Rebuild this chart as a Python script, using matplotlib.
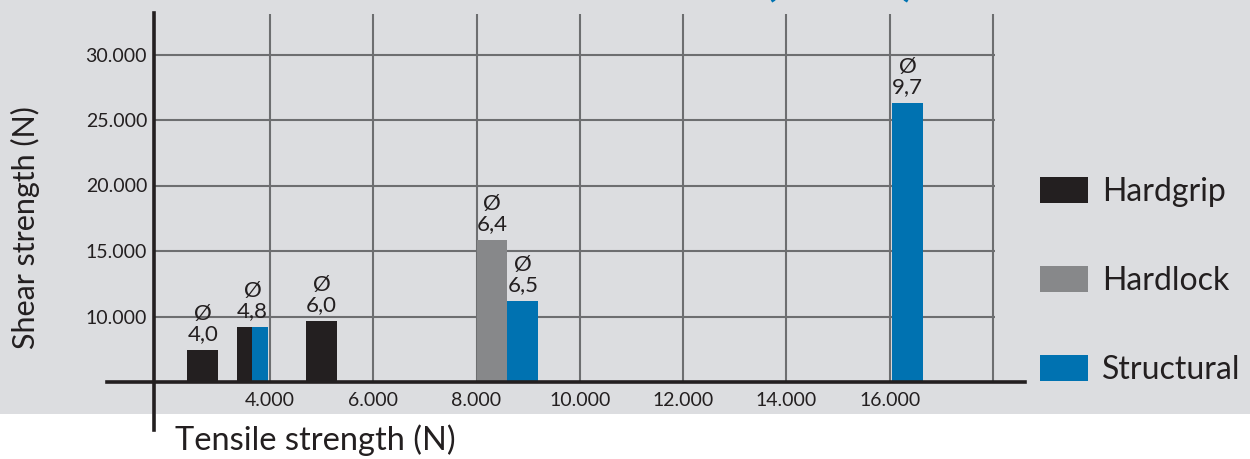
import matplotlib
matplotlib.use("Agg")
import matplotlib.pyplot as plt
from matplotlib.patches import Patch, Rectangle

plt.rcParams["font.family"] = ["Lato", "DejaVu Sans"]

PRETO = "#231f20"
CINZA = "#87888a"
AZUL = "#0072b1"
FUNDO = "#dcdde0"
GRADE = "#6d6e70"

# diametro (mm), resistencia a tracao (borda esquerda da barra) e ao cisalhamento
diametros = ["4,0", "4,8", "6,0", "6,4", "6,5", "9,7"]
tracao = [2400, 3360, 4700, 8000, 8600, 16050]
cisalhamento = [7450, 9200, 9650, 15840, 11180, 26300]
produtos = [["Hardgrip"], ["Hardgrip", "Structural"], ["Hardgrip"],
            ["Hardlock"], ["Structural"], ["Structural"]]

serie_nomes = ["Hardgrip", "Hardlock", "Structural"]
serie_cores = {"Hardgrip": PRETO, "Hardlock": CINZA, "Structural": AZUL}

x_ticks = [4000, 6000, 8000, 10000, 12000, 14000, 16000, 18000]
x_labels = ["4.000", "6.000", "8.000", "10.000", "12.000", "14.000", "16.000", ""]
y_ticks = [10000, 15000, 20000, 25000, 30000]
y_labels = ["10.000", "15.000", "20.000", "25.000", "30.000"]

BASE = 5000
LARGURA = 600

W, H = 1250, 459
fig = plt.figure(figsize=(W / 100, H / 100), dpi=100, facecolor="white")
fig.add_artist(Rectangle((0, (H - 414) / H), 1, 414 / H, transform=fig.transFigure,
                         facecolor=FUNDO, edgecolor="none", zorder=0))

ax = fig.add_axes([154 / W, (H - 382) / H, (995 - 154) / W, (382 - 14) / H])
ax.set_facecolor("none")
ax.set_xlim(1755, 18040)
ax.set_ylim(BASE, BASE + 368 / 13.1 * 1000)

for s in ax.spines.values():
    s.set_visible(False)

ax.set_xticks(x_ticks)
ax.set_xticklabels(x_labels)
ax.set_yticks(y_ticks)
ax.set_yticklabels(y_labels)
ax.tick_params(length=0, labelsize=14, labelcolor=PRETO)
ax.tick_params(axis="x", pad=7)
ax.tick_params(axis="y", pad=5)
ax.grid(True, color=GRADE, linewidth=1.5, zorder=1)
ax.set_axisbelow(True)

# eixos desenhados como no original (cruzando e saindo da area)
ax.plot([1755, 1755], [1330, 33150], color=PRETO, linewidth=2.6, clip_on=False, zorder=4)
ax.plot([840, 18620], [BASE, BASE], color=PRETO, linewidth=2.6, clip_on=False, zorder=4)

for d, x, y, prods in zip(diametros, tracao, cisalhamento, produtos):
    w = LARGURA / len(prods)
    for k, p in enumerate(prods):
        ax.bar(x + k * w, y - BASE, bottom=BASE, width=w, align="edge",
               color=serie_cores[p], zorder=3)
    ax.annotate(f"Ø\n{d}", (x + LARGURA / 2, y), xytext=(0, 4), textcoords="offset points",
                ha="center", va="bottom", fontsize=16, color=PRETO, linespacing=1.05,
                zorder=5)

fig.text(25 / W, (H - 228) / H, "Shear strength (N)", rotation=90, ha="center", va="center",
         fontsize=22, color=PRETO)
fig.text(175 / W, (H - 450) / H, "Tensile strength (N)", ha="left", va="baseline",
         fontsize=23.5, color=PRETO)
fig.text(840 / W, (H + 5) / H, "(  mm  )", ha="center", va="baseline", fontsize=34,
         color=AZUL, fontweight="bold")

handles = [Patch(facecolor=serie_cores[n], edgecolor="none") for n in serie_nomes]
fig.legend(handles, serie_nomes, loc="upper left", bbox_to_anchor=(1040 / W, (H - 177) / H),
           frameon=False, fontsize=23, handlelength=1.5, handleheight=0.85,
           handletextpad=0.45, labelspacing=1.85, borderpad=0, borderaxespad=0,
           labelcolor=PRETO)

fig.savefig("out.png", dpi=100, facecolor="white")
